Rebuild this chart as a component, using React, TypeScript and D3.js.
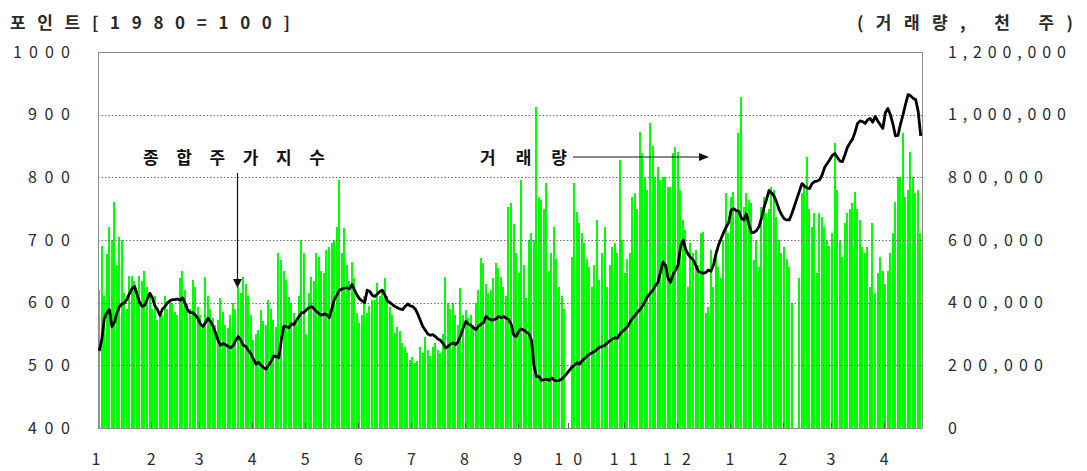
import React from 'react';
import * as d3 from 'd3';

// month labels on the category axis (Jan 2001 .. Apr 2002)
const monthLabels = ['1', '2', '3', '4', '5', '6', '7', '8', '9', '10', '11', '12', '1', '2', '3', '4'];
// trading days drawn per month
const monthDays = [21, 19, 21, 21, 21, 21, 21, 21, 20, 22, 21, 21, 21, 19, 21, 15];

// 종합주가지수 (daily close), null = market holiday
const kospi: (number | null)[] = [
  // 2001-01
  523, 541, 575, 584, 589, 562, 568, 584, 594, 598, 600, 606, 615, 623, 626, 612, 600, 594, 596, 606, 615,
  // 02
  608, 595, 589, 580, 590, 594, 600, 603, 605, 605, 606, 604, 608, 598, 588, 584, 584, 580, 575,
  // 03
  566, 562, 568, 575, 570, 562, 552, 540, 532, 535, 533, 530, 528, 532, 540, 546, 540, 532, 530, 524, 518,
  // 04
  510, 502, 505, 500, 496, 494, 500, 507, 515, 514, 512, 540, 562, 562, 560, 566, 565, 572, 578, 584, 584,
  // 05
  589, 592, 594, 590, 586, 582, 580, 582, 581, 576, 590, 605, 612, 620, 622, 623, 624, 622, 629, 620, 612,
  // 06
  606, 603, 600, 620, 618, 612, 610, 614, 618, 620, 612, 603, 600, 597, 594, 592, 590, 589, 594, 598, 595,
  // 07
  594, 590, 582, 572, 562, 556, 550, 548, 549, 546, 542, 540, 535, 528, 530, 534, 536, 533, 538, 548, 560,
  // 08
  570, 566, 564, 560, 557, 562, 566, 568, 578, 575, 572, 573, 574, 578, 576, 578, 575, 573, 565, 548, 546,
  // 09
  555, 558, 556, 553, 550, 540, 499, 482, 482, 476, 477, 478, 476, 480, 476, 475, 476, 478, 482, null,
  // 10
  null, 497, 500, 504, 502, 507, 511, 515, 518, 520, 522, 526, 529, 530, 532, 536, 539, 542, 544, 543, 550, 554,
  // 11
  558, 562, 569, 575, 580, 585, 589, 595, 603, 610, 615, 620, 627, 632, 648, 665, 660, 640, 632, 645, 652,
  // 12
  660, 690, 700, 685, 677, 672, 668, 660, 650, 648, 647, 648, 652, 650, 660, 678, 692, 702, 712, 720, 728,
  // 2002-01
  748, 750, 747, 746, 735, 732, 742, 725, 712, 712, 715, 721, 735, 752, 765, 779, 775, 770, 760, 748, 740,
  // 02
  734, 732, 732, 742, null, null, 778, 790, 786, 783, 782, 790, 793, 794, 796, 804, 816, 822, 828,
  // 03
  835, 838, 832, 826, 825, 836, 848, 855, 861, 872, 886, 890, 889, 886, 892, 894, 888, 897, 890, 884, 878,
  // 04
  903, 910, 900, 885, 866, 867, 885, 900, 917, 932, 930, 926, 924, 905, 866,
];

// 거래량 (천 주)
const volume: number[] = [
  // 2001-01
  440000, 580000, 420000, 555000, 640000, 600000, 720000, 520000, 610000, 600000, 430000, 380000, 485000, 485000, 470000, 440000, 485000, 470000, 500000, 450000, 420000,
  // 02
  380000, 420000, 345000, 370000, 360000, 420000, 380000, 408000, 400000, 370000, 360000, 480000, 500000, 440000, 400000, 380000, 472000, 450000, 387000,
  // 03
  360000, 330000, 483000, 420000, 380000, 350000, 330000, 345000, 414000, 370000, 330000, 320000, 360000, 398000, 380000, 450000, 430000, 483000, 460000, 420000, 360000,
  // 04
  281000, 300000, 313000, 377000, 340000, 330000, 408000, 380000, 345000, 323000, 557000, 536000, 500000, 472000, 419000, 400000, 366000, 345000, 420000, 600000, 560000,
  // 05
  300000, 430000, 483000, 470000, 557000, 547000, 500000, 494000, 568000, 579000, 589000, 600000, 640000, 792000, 560000, 637000, 520000, 470000, 531000, 480000, 366000,
  // 06
  334000, 360000, 420000, 366000, 390000, 408000, 410000, 462000, 420000, 440000, 478000, 420000, 387000, 360000, 302000, 323000, 310000, 270000, 260000, 240000, 217000,
  // 07
  228000, 206000, 215000, 260000, 240000, 292000, 250000, 230000, 260000, 270000, 250000, 240000, 300000, 483000, 400000, 380000, 398000, 360000, 330000, 446000, 360000,
  // 08
  377000, 350000, 360000, 330000, 400000, 440000, 541000, 526000, 460000, 430000, 440000, 480000, 526000, 510000, 483000, 450000, 420000, 706000, 717000, 650000, 560000,
  // 09
  494000, 792000, 520000, 414000, 600000, 621000, 600000, 1026000, 738000, 728000, 700000, 781000, 500000, 560000, 643000, 540000, 451000, 420000, 380000, 0,
  // 10
  0, 547000, 781000, 690000, 653000, 621000, 589000, 540000, 515000, 451000, 520000, 664000, 472000, 560000, 643000, 451000, 520000, 579000, 589000, 560000, 855000, 600000,
  // 11
  494000, 540000, 557000, 738000, 749000, 700000, 946000, 877000, 802000, 760000, 972000, 900000, 802000, 834000, 790000, 802000, 802000, 770000, 770000, 877000, 898000,
  // 12
  880000, 760000, 664000, 632000, 451000, 589000, 560000, 568000, 520000, 621000, 627000, 366000, 387000, 568000, 450000, 568000, 515000, 480000, 600000, 749000, 621000,
  // 2002-01
  738000, 754000, 700000, 940000, 1057000, 706000, 749000, 728000, 717000, 536000, 600000, 515000, 706000, 738000, 685000, 700000, 770000, 760000, 675000, 600000, 557000,
  // 02
  579000, 540000, 515000, 400000, 0, 0, 480000, 749000, 770000, 866000, 700000, 643000, 685000, 494000, 685000, 675000, 640000, 600000, 580000,
  // 03
  621000, 909000, 760000, 600000, 547000, 653000, 685000, 700000, 717000, 754000, 700000, 664000, 579000, 560000, 579000, 451000, 653000, 430000, 494000, 547000, 500000,
  // 04
  460000, 500000, 557000, 621000, 722000, 802000, 802000, 940000, 738000, 760000, 882000, 802000, 749000, 760000, 621000,
];

const indexTicks = [400, 500, 600, 700, 800, 900, 1000];
const volumeTicks = [0, 200000, 400000, 600000, 800000, 1000000, 1200000];

const W = 1087;
const H = 471;
const plot = { left: 98, right: 922, top: 52, bottom: 428 };
const font = "'Noto Sans CJK KR', 'Noto Sans', sans-serif";
const textColor = '#2a2a2a';

// width of a spaced-out number label: digits wide, commas narrow
const numWidth = (s: string) => {
  let w = 0;
  for (const c of s) w += c === ',' ? 8 : 15;
  return w - 3;
};

export default function App() {
  const days = d3.range(volume.length);
  const x = d3.scaleBand<number>().domain(days).range([plot.left, plot.right]).padding(0);
  const bw = x.bandwidth();
  const yIndex = d3.scaleLinear().domain([400, 1000]).range([plot.bottom, plot.top]);
  const yVol = d3.scaleLinear().domain([0, 1200000]).range([plot.bottom, plot.top]);
  const fmt = d3.format(',');

  const monthStarts = monthDays.map((_, i) => d3.sum(monthDays.slice(0, i)));

  const pts = days
    .filter((i) => kospi[i] != null)
    .map((i) => [x(i)! + bw / 2, yIndex(kospi[i] as number)] as [number, number]);
  const linePath = d3.line()(pts) || '';

  return (
    <svg
      width={W}
      height={H}
      style={{ position: 'absolute', left: 0, top: 0, background: '#fff' }}
      fontFamily={font}
    >
      <rect width={W} height={H} fill="#fff" />

      {/* volume bars */}
      <g shapeRendering="crispEdges" fill="#00ff00">
        {days.map((i) =>
          volume[i] > 0 ? (
            <rect
              key={i}
              x={Math.round(x(i)!)}
              y={yVol(volume[i])}
              width={2}
              height={plot.bottom - yVol(volume[i])}
            />
          ) : null
        )}
      </g>

      {/* dotted grid */}
      <g stroke="#6d6d6d" strokeWidth={1} strokeDasharray="1.5 2">
        {indexTicks.slice(1, -1).map((t) => (
          <line key={t} x1={plot.left} x2={plot.right} y1={Math.round(yIndex(t)) + 0.5} y2={Math.round(yIndex(t)) + 0.5} />
        ))}
      </g>

      {/* frame */}
      <rect
        x={plot.left + 0.5}
        y={plot.top + 0.5}
        width={plot.right - plot.left}
        height={plot.bottom - plot.top}
        fill="none"
        stroke="#8a8a8a"
        strokeWidth={1}
      />

      {/* month ticks */}
      <g stroke="#555" strokeWidth={1}>
        {monthStarts.slice(1).map((s) => (
          <line key={s} x1={Math.round(x(s)!) + 0.5} x2={Math.round(x(s)!) + 0.5} y1={plot.bottom} y2={plot.bottom - 5} />
        ))}
      </g>

      {/* index line */}
      <path d={linePath} fill="none" stroke="#000" strokeWidth={2.8} strokeLinejoin="round" />

      {/* left axis */}
      <g fill={textColor} fontSize={16}>
        {indexTicks.map((t) => {
          const s = String(t);
          const w = s.length * 15 - 3;
          return (
            <text key={t} x={70 - w} y={yIndex(t)} dy="0.36em" textLength={w} lengthAdjust="spacing">
              {s}
            </text>
          );
        })}
      </g>

      {/* right axis */}
      <g fill={textColor} fontSize={16}>
        {volumeTicks.map((t) => {
          const s = fmt(t);
          return s.length > 1 ? (
            <text key={t} x={948} y={yVol(t)} dy="0.36em" textLength={numWidth(s)} lengthAdjust="spacing">
              {s}
            </text>
          ) : (
            <text key={t} x={948} y={yVol(t)} dy="0.36em">
              {s}
            </text>
          );
        })}
      </g>

      {/* month labels */}
      <g fill={textColor} fontSize={16}>
        {monthLabels.map((m, i) => {
          const cx = i === 0 ? 96 : x(monthStarts[i])!;
          if (m.length === 1) {
            return (
              <text key={i} x={cx} y={459} dy="0.36em" textAnchor="middle">
                {m}
              </text>
            );
          }
          const w = 28;
          return (
            <text key={i} x={cx - w / 2} y={459} dy="0.36em" textLength={w} lengthAdjust="spacing">
              {m}
            </text>
          );
        })}
      </g>

      {/* titles */}
      <text x={10} y={29} fontSize={17} fontWeight={700} fill={textColor} textLength={280} lengthAdjust="spacing">
        포인트[1980=100]
      </text>
      <text x={857} y={29} fontSize={17} fontWeight={700} fill={textColor} textLength={216} lengthAdjust="spacing">
        (거래량, 천 주)
      </text>

      {/* annotations */}
      <text x={143} y={164} fontSize={17} fontWeight={700} fill="#111" textLength={182} lengthAdjust="spacing">
        종합주가지수
      </text>
      <line x1={237.5} x2={237.5} y1={173} y2={281} stroke="#111" strokeWidth={1.2} />
      <path d="M233,279 L242,279 L237.5,288 Z" fill="#111" />

      <text x={480} y={164} fontSize={17} fontWeight={700} fill="#111" textLength={87} lengthAdjust="spacing">
        거래량
      </text>
      <line x1={573} x2={700} y1={157} y2={157} stroke="#111" strokeWidth={1.2} />
      <path d="M699,153 L699,161 L709,157 Z" fill="#111" />
    </svg>
  );
}
